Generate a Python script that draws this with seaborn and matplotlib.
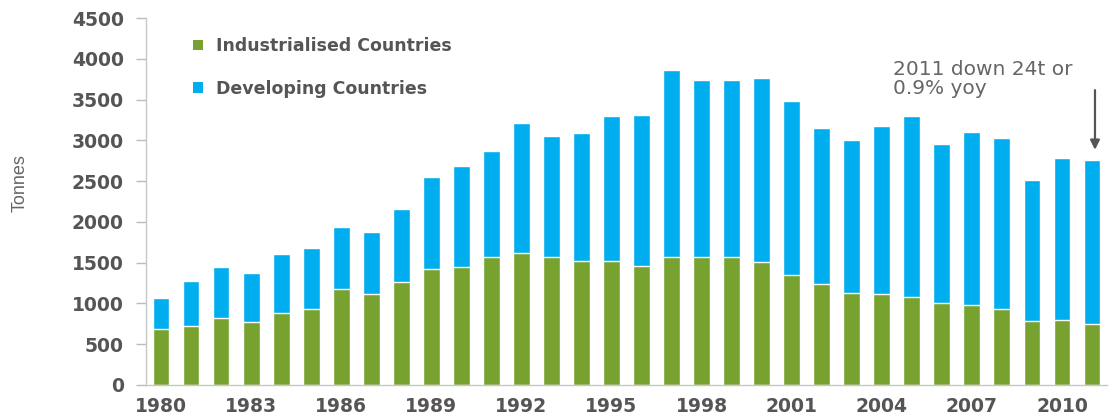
import matplotlib
matplotlib.use("Agg")
import matplotlib.pyplot as plt
import seaborn as sns
import pandas as pd
from matplotlib.patches import Patch
from matplotlib import font_manager

years = list(range(1980, 2012))
total = [1063, 1279, 1451, 1370, 1606, 1684, 1941, 1880, 2154, 2547,
         2689, 2873, 3209, 3053, 3086, 3298, 3311, 3862, 3740, 3740,
         3760, 3486, 3147, 3004, 3180, 3298, 2955, 3098, 3025, 2514,
         2780, 2759]
industrialised = [683, 723, 818, 776, 879, 928, 1173, 1112, 1267, 1422,
                  1451, 1573, 1614, 1565, 1520, 1520, 1463, 1573, 1573, 1573,
                  1512, 1349, 1238, 1124, 1116, 1083, 1009, 981, 932, 788,
                  797, 748]
series_labels = ["Industrialised Countries", "Developing Countries"]
yticks = [0, 500, 1000, 1500, 2000, 2500, 3000, 3500, 4000, 4500]
annotation = "2011 down 24t or\n0.9% yoy"
ylabel = "Tonnes"

GREEN = "#77A22F"
BLUE = "#00AEEF"
TXT = "#555555"

sns.set_style("white")
df = pd.DataFrame({"year": [str(y) for y in years], "total": total,
                   "ind": industrialised})

fig = plt.figure(figsize=(11.16, 4.17), dpi=100)
ax = fig.add_axes([146 / 1116, 1 - 385 / 417, (1107 - 146) / 1116, (385 - 18) / 417])

sns.barplot(data=df, x="year", y="total", color=BLUE, width=0.56,
            saturation=1, ax=ax)
sns.barplot(data=df, x="year", y="ind", color=GREEN, width=0.56,
            saturation=1, ax=ax)

ax.set_xlim(-0.5, len(years) - 0.5)
ax.set_ylim(0, 4500)
ax.set_yticks(yticks)
ax.set_yticklabels([str(v) for v in yticks])

ax.set_xticks([i - 0.5 for i in range(len(years) + 1)])
ax.set_xticklabels([])
lab_pos = [i for i, y in enumerate(years) if (y - 1980) % 3 == 0]
ax.set_xticks(lab_pos, minor=True)
ax.set_xticklabels([str(years[i]) for i in lab_pos], minor=True)
ax.tick_params(axis="x", which="major", length=5, color="#BBBBBB", width=1,
               direction="out")
ax.tick_params(axis="x", which="minor", length=0, pad=9, labelsize=13.5,
               labelcolor=TXT)
ax.tick_params(axis="y", length=7, color="#BBBBBB", width=1, pad=9,
               labelsize=13.5, labelcolor=TXT, left=True)
for lbl in ax.get_xticklabels(minor=True) + ax.get_yticklabels():
    lbl.set_fontweight("bold")

for s in ["top", "right"]:
    ax.spines[s].set_visible(False)
for s in ["left", "bottom"]:
    ax.spines[s].set_color("#C8C8C8")
    ax.spines[s].set_linewidth(1)

names = {f.name for f in font_manager.fontManager.ttflist}
narrow = "Liberation Sans Narrow" if "Liberation Sans Narrow" in names else "Liberation Sans"
ax.set_xlabel("")
ax.set_ylabel(ylabel, fontsize=13, color="#666666", family=narrow)
ax.yaxis.set_label_coords(-0.122, 0.55)

handles = [Patch(facecolor=GREEN, edgecolor="none"),
           Patch(facecolor=BLUE, edgecolor="none")]
leg = ax.legend(handles, series_labels, loc="upper left",
                bbox_to_anchor=(0.033, 0.99), frameon=False,
                prop={"weight": "bold", "size": 12.5}, labelspacing=1.4,
                handlelength=0.55, handleheight=0.55, handletextpad=0.75)
for t in leg.get_texts():
    t.set_color(TXT)

ax.text(24.37, 3980, annotation, ha="left", va="top", fontsize=14.5,
        color="#666666", linespacing=1.0)
ax.annotate("", xy=(31.1, 2850), xytext=(31.1, 3650),
            arrowprops=dict(arrowstyle="-|>", color="#555555", lw=1.6,
                            mutation_scale=14))

fig.savefig("out.png", dpi=100)
